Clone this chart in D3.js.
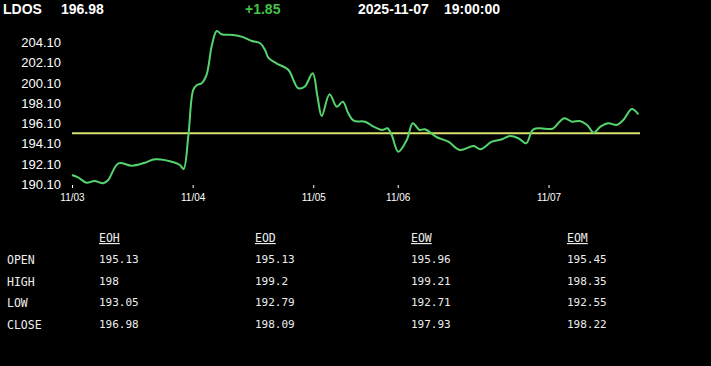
<!DOCTYPE html>
<html>
<head>
<meta charset="utf-8">
<script src="https://cdn.jsdelivr.net/npm/d3@7"></script>
<style>
  body { margin: 0; background: #000; }
  #chart { width: 711px; height: 366px; }
</style>
</head>
<body>
<div id="chart"></div>
<script>
// header
const symbol = "LDOS"
const lastPrice = "196.98"
const change = "+1.85"
const stamp = ["2025-11-07", "19:00:00"]

// intraday series: hour index (extended session) and price
const hours = [0, 1, 2.4, 3.7, 5.2, 6, 7.7, 9.9, 12.1, 13.8, 17.1, 17.9, 18.5, 19.3, 20.1, 20.7,
  21.5, 22.3, 23.2, 24, 24.8, 26.7, 28.1, 29.8, 31.2, 32, 32.6, 33.9, 35.9, 36.7, 37.5, 38.6,
  39.9, 40.7, 41.4, 42.7, 43.9, 44.9, 45.8, 46.7, 48.6, 50, 51.4, 52.3, 53, 54.1, 55.5, 56.5,
  57.6, 58.5, 60.5, 62.4, 64.3, 66.6, 67.7, 69.6, 71.3, 72.6, 74, 75.3, 76.5, 79.3, 79.8, 81.6,
  82.9, 84.2, 85.4, 86.5, 87.6, 88.9, 90.3, 91.4, 92.8, 93.9]
const prices = [191.02, 190.79, 190.26, 190.43, 190.20, 190.52, 192.17, 191.93, 192.23, 192.57,
  192.23, 192.00, 191.61, 194.96, 199.40, 199.89, 200.06, 200.88, 203.84, 205.22, 204.89, 204.82,
  204.66, 204.23, 204.01, 203.34, 202.53, 202.03, 201.37, 200.39, 199.57, 199.75, 201.05, 198.74,
  196.84, 198.98, 197.75, 198.25, 197.10, 196.37, 196.27, 195.78, 195.46, 195.62, 194.96, 193.31,
  194.47, 196.12, 195.46, 195.52, 194.74, 194.30, 193.48, 193.88, 193.55, 194.30, 194.54, 194.86,
  194.64, 194.14, 195.52, 195.55, 195.62, 196.61, 196.27, 196.34, 195.95, 195.19, 195.78, 196.12,
  195.95, 196.44, 197.53, 197.00]
const openRef = 195.13

const priceTicks = [190.1, 192.1, 194.1, 196.1, 198.1, 200.1, 202.1, 204.1]
const dayTicks = [0, 20, 40, 54, 79]
const dayLabels = ["11/03", "11/04", "11/05", "11/06", "11/07"]

// summary table
const periods = ["EOH", "EOD", "EOW", "EOM"]
const rowNames = ["OPEN", "HIGH", "LOW", "CLOSE"]
const opens = ["195.13", "195.13", "195.96", "195.45"]
const highs = ["198", "199.2", "199.21", "198.35"]
const lows = ["193.05", "192.79", "192.71", "192.55"]
const closes = ["196.98", "198.09", "197.93", "198.22"]

function draw()
{
    const width = 711, height = 366
    const svg = d3.select("#chart").append("svg")
        .attr("width", width)
        .attr("height", height)
        .style("background", "#000")

    // top bar
    const head = svg.append("g")
        .attr("font-family", "Liberation Sans, Arial, sans-serif")
        .attr("font-size", 14)
        .attr("font-weight", "bold")
    head.append("text").attr("x", 3).attr("y", 14).attr("fill", "#fff").text(symbol)
    head.append("text").attr("x", 61).attr("y", 14).attr("fill", "#fff").text(lastPrice)
    head.append("text").attr("x", 245).attr("y", 14).attr("fill", "#44c244").text(change)
    head.append("text").attr("x", 358).attr("y", 14).attr("fill", "#fff").text(stamp[0])
    head.append("text").attr("x", 444).attr("y", 14).attr("fill", "#fff").text(stamp[1])

    const x = d3.scaleLinear().domain([0, 94]).range([72, 639])
    const y = d3.scaleLinear().domain([190.1, 204.1]).range([184.3, 42.3])

    const yAxis = svg.append("g")
        .attr("transform", "translate(64, 0)")
        .call(d3.axisLeft(y).tickValues(priceTicks).tickFormat(d3.format(".2f")).tickSize(0).tickPadding(3))
    yAxis.select(".domain").remove()
    yAxis.selectAll("text")
        .attr("fill", "#fff")
        .attr("font-size", 13)
        .attr("font-family", "Liberation Sans, Arial, sans-serif")

    const xAxis = svg.append("g")
        .attr("transform", "translate(0, 185)")
        .call(d3.axisBottom(x).tickValues(dayTicks).tickFormat((d, i) => dayLabels[i]).tickSize(3).tickPadding(6))
    xAxis.select(".domain").remove()
    xAxis.selectAll("line").attr("stroke", "#fff")
    xAxis.selectAll("text")
        .attr("fill", "#fff")
        .attr("font-size", 10)
        .attr("font-family", "Liberation Sans, Arial, sans-serif")

    // reference line at the open
    svg.append("line")
        .attr("x1", x(0)).attr("x2", x(94) + 1)
        .attr("y1", y(openRef)).attr("y2", y(openRef))
        .attr("stroke", "#d8e16c")
        .attr("stroke-width", 2)

    const line = d3.line()
        .x((d, i) => x(hours[i]))
        .y(d => y(d))
        .curve(d3.curveCatmullRom.alpha(0.5))

    svg.append("path")
        .datum(prices)
        .attr("fill", "none")
        .attr("stroke", "#55d46e")
        .attr("stroke-width", 2)
        .attr("d", line)

    // table
    const colX = [99, 255, 411, 567]
    const rowY = [263, 285, 306, 328]
    const cols = [opens, highs, lows, closes]
    const tbl = svg.append("g")
        .attr("font-family", "DejaVu Sans Mono, Liberation Mono, monospace")
        .attr("fill", "#eee")

    periods.forEach((p, i) => {
        tbl.append("text")
            .attr("x", colX[i]).attr("y", 242)
            .attr("font-size", 11.5)
            .attr("text-decoration", "underline")
            .text(p)
    })
    rowNames.forEach((r, j) => {
        tbl.append("text")
            .attr("x", 7).attr("y", rowY[j] + 1)
            .attr("font-size", 11.5)
            .text(r)
        cols[j].forEach((v, i) => {
            tbl.append("text")
                .attr("x", colX[i]).attr("y", rowY[j])
                .attr("font-size", 11)
                .text(v)
        })
    })
}

draw()
</script>
</body>
</html>
